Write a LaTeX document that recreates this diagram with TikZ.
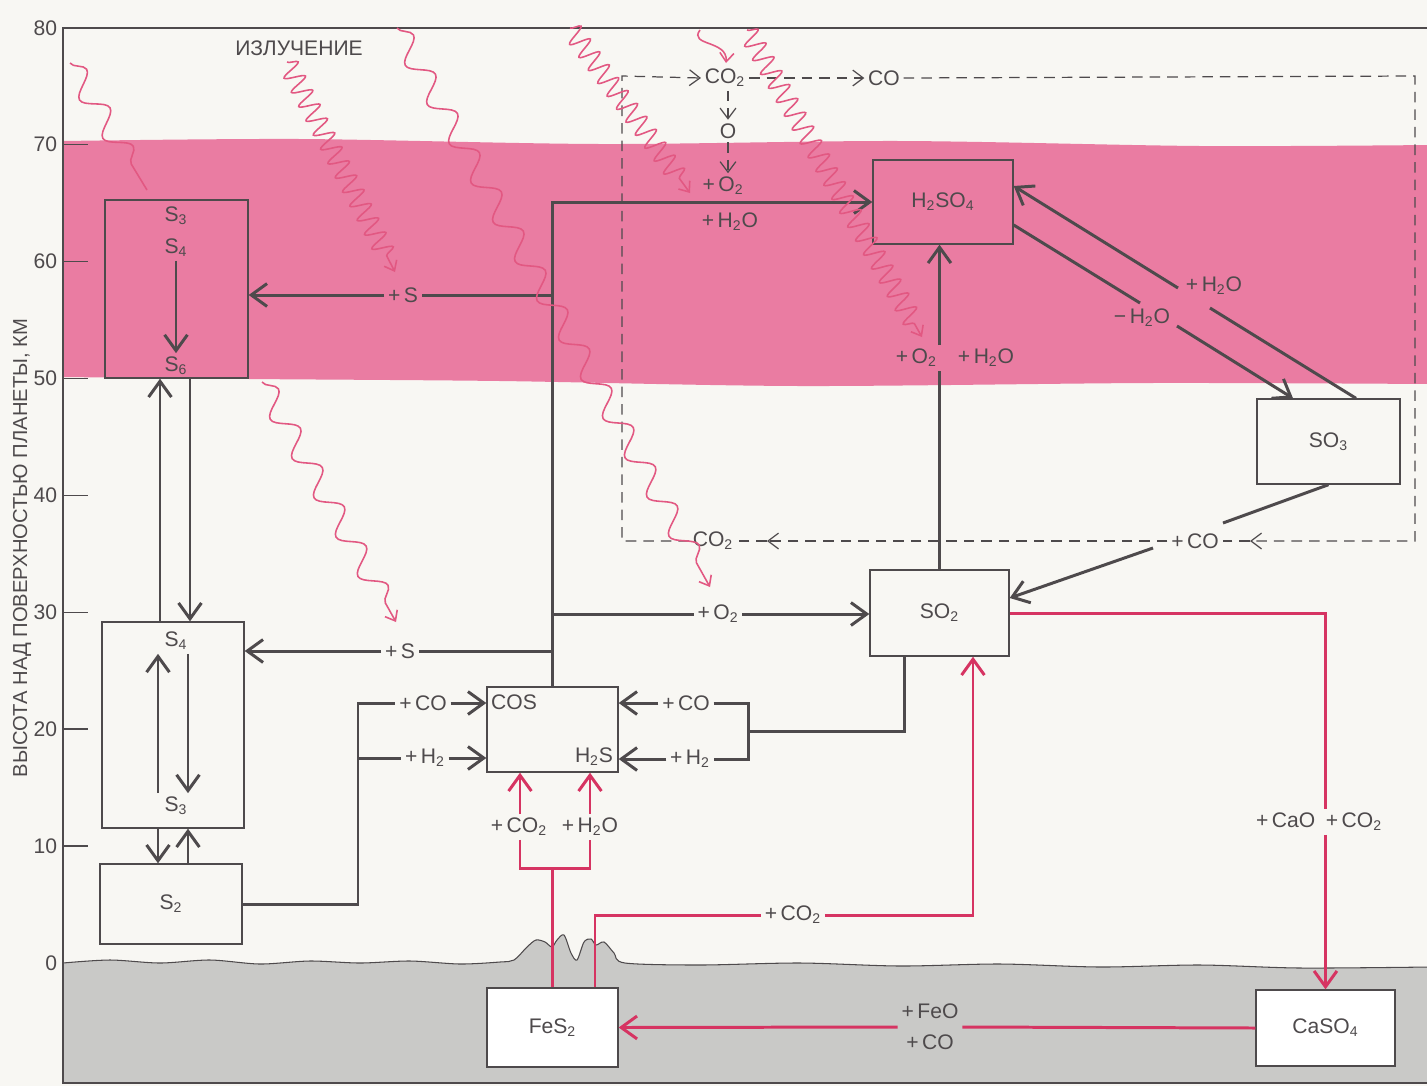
\documentclass[tikz,border=0pt]{standalone}
\usepackage{fontspec}
\setmainfont{Liberation Sans}
\usetikzlibrary{arrows.meta,decorations.pathmorphing}
\definecolor{cloud}{RGB}{234,124,162}
\definecolor{ink}{RGB}{78,74,76}
\definecolor{redline}{RGB}{214,52,98}
\definecolor{rayc}{RGB}{226,88,130}
\definecolor{paper}{RGB}{248,247,243}
\definecolor{ground}{RGB}{201,201,199}
\newcommand{\chsub}[1]{\textsubscript{#1}}

\begin{document}
\begin{tikzpicture}[x=0.02cm,y=-0.02cm,font=\fontsize{12}{14}\selectfont,
  box/.style={draw=ink,line width=0.8pt,fill=paper,inner sep=0pt,text=ink},
  cbox/.style={draw=ink,line width=0.8pt,inner sep=0pt,text=ink},
  lbl/.style={inner sep=2pt,text=ink},
  flow/.style={draw=ink,line width=1.7pt,>={Straight Barb[length=9pt,width=13pt]}},
  pflow/.style={draw=redline,line width=1.7pt,>={Straight Barb[length=9pt,width=13pt]}},
  dflow/.style={draw=ink,line width=0.7pt,dash pattern=on 6pt off 4pt,>={Straight Barb[length=6pt,width=9pt]}},
  raybase/.style={draw=rayc,line width=0.9pt,>={Straight Barb[length=5pt,width=8pt]}},
  ray/.style={raybase,decorate,decoration={snake,segment length=0.32cm,amplitude=0.2cm,post length=3mm}},
  slowray/.style={raybase,decorate,decoration={snake,segment length=0.9cm,amplitude=0.22cm,post length=3mm}}
]
\fill[paper] (0,0) rectangle (1427,1086);
\useasboundingbox (0,0) rectangle (1427,1086);

% cloud layer and ground
\fill[cloud] plot[smooth] coordinates {(63,141) (300,139) (600,144) (900,141) (1200,146) (1430,145)}
  -- plot[smooth] coordinates {(1430,384) (1150,383) (800,386) (500,381) (250,379) (63,377)} -- cycle;
\filldraw[fill=ground,draw=ink,line width=0.6pt] plot[smooth,tension=0.5] coordinates {(63,963) (110,960) (160,963) (210,960) (260,964) (310,961) (360,963) (410,961) (460,964) (500,962) (514,960) (527,947) (536,940) (545,942) (552,947) (557,940) (564,935) (571,953) (577,960) (584,942) (591,939) (596,945) (604,942) (614,953) (625,963) (700,965) (800,963) (900,966) (1000,964) (1100,967) (1200,965) (1300,968) (1430,967)}
  -- (1430,1083) -- (63,1083) -- cycle;

% axis
\draw[ink,line width=0.9pt] (1430,28) -- (63,28) -- (63,1083) -- (1430,1083);
\foreach \v in {10,20,...,70} \draw[ink,line width=0.9pt] (63,{963-11.69*\v}) -- +(25,0);
\foreach \v in {0,10,...,80} \node[lbl,anchor=east] (t\v) at (61,{963-11.69*\v}) {\v};
\node[lbl,rotate=90,font=\fontsize{11.5}{14}\selectfont] (ytitle) at (22,548) {ВЫСОТА НАД ПОВЕРХНОСТЬЮ ПЛАНЕТЫ, КМ};

% boxes
\node[cbox,minimum width=2.86cm,minimum height=3.56cm] (sTop) at (176.5,289) {};
\node[lbl] (t3) at (176,216) {S\chsub3};
\node[lbl] (t4) at (176,248) {S\chsub4};
\node[lbl] (t6) at (176,366) {S\chsub6};
\node[box,minimum width=2.84cm,minimum height=4.12cm] (sMid) at (173,725) {};
\node[lbl] (m4) at (176,641) {S\chsub4};
\node[lbl] (m3) at (176,806) {S\chsub3};
\node[box,minimum width=2.84cm,minimum height=1.6cm] (sTwo) at (171,904) {S\chsub2};
\node[box,minimum width=2.62cm,minimum height=1.7cm] (cos) at (552.5,729.5) {};
\node[lbl] (cosT) at (514,702) {COS};
\node[lbl] (hsT) at (594,757) {H\chsub2S};
\node[box,minimum width=2.78cm,minimum height=1.72cm] (sotwo) at (939.5,613) {SO\chsub2};
\node[cbox,minimum width=2.8cm,minimum height=1.68cm] (hso) at (943,202) {H\chsub2SO\chsub4};
\node[box,minimum width=2.86cm,minimum height=1.7cm] (sothree) at (1328.5,441.5) {SO\chsub3};
\node[box,fill=white,minimum width=2.62cm,minimum height=1.58cm] (fes) at (552.5,1027.5) {FeS\chsub2};
\node[box,fill=white,minimum width=2.78cm,minimum height=1.52cm] (caso) at (1325.5,1028) {CaSO\chsub4};

% labels
\node[lbl] (sA) at (403,295) {+\,S};
\node[lbl] (sB) at (400,651) {+\,S};
\node[lbl] (oA) at (718,614) {+\,O\chsub2};
\node[lbl] (o2L) at (723,186) {+\,O\chsub2};
\node[lbl] (h2oL) at (730,222) {+\,H\chsub2O};
\node[lbl] (coL) at (423,703) {+\,CO};
\node[lbl] (h2L) at (425,758) {+\,H\chsub2};
\node[lbl] (coR) at (686,703) {+\,CO};
\node[lbl] (h2R) at (690,759) {+\,H\chsub2};
\node[lbl] (ohL) at (955,358) {+\,O\chsub2\quad+\,H\chsub2O};
\node[lbl] (hA) at (1214,286) {+\,H\chsub2O};
\node[lbl] (hB) at (1142,318) {−\,H\chsub2O};
\node[lbl] (co2t) at (725,78) {CO\chsub2};
\node[lbl] (coT) at (884,78) {CO};
\node[lbl] (oN) at (728,131) {O};
\node[lbl] (co2b) at (713,541) {CO\chsub2};
\node[lbl] (coB) at (1195,541) {+\,CO};
\node[lbl] (cF) at (519,827) {+\,CO\chsub2};
\node[lbl] (wF) at (590,827) {+\,H\chsub2O};
\node[lbl] (cG) at (793,915) {+\,CO\chsub2};
\node[lbl] (caL) at (1319,822) {+\,CaO\enspace+\,CO\chsub2};
\node[lbl,align=center,font=\fontsize{12}{17.5}\selectfont] (feL) at (930,1027) {+\,FeO\\+\,CO};
\node[lbl,font=\fontsize{12}{14}\selectfont] (rad) at (299,48) {ИЗЛУЧЕНИЕ};

% sulfur chain
\draw[flow,->] (t4) -- (t6);
\draw[flow,->] ([xshift=-0.36cm]m3.north) -- ([xshift=-0.36cm]m4.south);
\draw[flow,->] ([xshift=0.24cm]m4.south) -- ([xshift=0.24cm]m3.north);
\draw[flow,->] ([xshift=-0.26cm]sMid.north) -- ([xshift=-0.26cm]sMid.north |- sTop.south);
\draw[flow,->] ([xshift=0.34cm]sMid.north |- sTop.south) -- ([xshift=0.34cm]sMid.north);
\draw[flow,->] ([xshift=-0.3cm]sMid.south) -- ([xshift=-0.3cm]sMid.south |- sTwo.north);
\draw[flow,->] ([xshift=0.3cm]sMid.south |- sTwo.north) -- ([xshift=0.3cm]sMid.south);

% trunk from COS
\draw[flow,->] (cos.north) |- (hso.west);
\draw[flow] (cos.north |- sA) -- (sA.east);
\draw[flow,->] (sA.west) -- (sTop.east |- sA);
\draw[flow] (cos.north |- sB) -- (sB.east);
\draw[flow,->] (sB.west) -- (sMid.east |- sB);
\draw[flow] (cos.north |- oA) -- (oA.west);
\draw[flow,->] (oA.east) -- (sotwo.west |- oA);

\coordinate (lBus) at (358,758);
\draw[flow] (sTwo.east) -| (lBus |- coL) -- (coL.west);
\draw[flow] (lBus) -- (h2L.west);
\draw[flow,->] (coL.east) -- (cos.west |- coL);
\draw[flow,->] (h2L.east) -- (cos.west |- h2L);

\coordinate (rBus) at (748,731);
\draw[flow] ([xshift=-0.7cm]sotwo.south) |- (rBus);
\draw[flow] (coR.east) -| (rBus) |- (h2R.east);
\draw[flow,->] (coR.west) -- (cos.east |- coR);
\draw[flow,->] (h2R.west) -- (cos.east |- h2R);

\draw[flow] (sotwo.north) -- (sotwo.north |- ohL.south);
\draw[flow,->] (sotwo.north |- ohL.north) -- (sotwo.north |- hso.south);

\coordinate (hAu) at (1178,288);
\coordinate (hAd) at (1210,308);
\coordinate (hBu) at (1140,303);
\coordinate (hBd) at (1177,326);
\draw[flow,->] (hAu) -- ([yshift=0.32cm]hso.east);
\draw[flow] ([xshift=0.55cm]sothree.north) -- (hAd);
\draw[flow] ([yshift=-0.46cm]hso.east) -- (hBu);
\draw[flow,->] (hBd) -- ([xshift=-0.71cm]sothree.north);

\coordinate (cA) at (1223,523);
\coordinate (cB) at (1153,548);
\draw[flow] (sothree.south) -- (cA);
\draw[flow,->] (cB) -- ([yshift=0.3cm]sotwo.east);

% CO2 photolysis loop
\coordinate (dTL) at (622,76);
\coordinate (dTR) at (1415,76);
\coordinate (dBR) at (1415,541);
\coordinate (dBL) at (622,541);
\coordinate (dArR) at (1250,541);
\coordinate (dArL) at (767,541);
\draw[dflow,->] (coT.east) -- (dTR) -- (dBR) -- (dArR);
\draw[dflow] (dArR) -- (coB.east);
\draw[dflow,->] (coB.west) -- (dArL);
\draw[dflow] (dArL) -- (co2b.east);
\draw[dflow,->] (co2b.west) -- (dBL) -- (dTL) -- (co2t.west);
\draw[dflow,->] (co2t.east) -- (coT.west);
\draw[dflow,->] (co2t.south -| oN) -- (oN.north);
\draw[dflow,->] (oN.south) -- (oN.south |- o2L.north);

% surface exchange
\coordinate (pbL) at (520,868);
\coordinate (pbR) at (590,868);
\draw[pflow] (fes.north) -- (fes.north |- pbL);
\draw[pflow] (pbL |- cF.south) -- (pbL) -- (pbR) -- (pbR |- wF.south);
\draw[pflow,->] (pbL |- cF.north) -- (pbL |- cos.south);
\draw[pflow,->] (pbR |- wF.north) -- (pbR |- cos.south);
\draw[pflow] ([xshift=0.85cm]fes.north) |- (cG.west);
\draw[pflow,->] (cG.east) -| ([xshift=0.67cm]sotwo.south);
\draw[pflow] (sotwo.east) -| (caso.north |- caL.north);
\draw[pflow,->] (caso.north |- caL.south) -- (caso.north);
\draw[pflow] (caso.west) -- (feL.east);
\draw[pflow,->] (feL.west) -- (fes.east);

% radiation
\draw[slowray] (70,63) -- (147,190);
\draw[ray,->] (287,62) -- (395,272);
\draw[slowray,->] (397,28) -- (710,587);
\draw[slowray,->] (262,382) -- (396,622);
\draw[ray,->] (570,28) -- (690,193);
\draw[raybase,->] (700,30) .. controls (688,46) and (728,40) .. (726,63);
\draw[ray,->] (747,30) -- (922,337);
\end{tikzpicture}
\end{document}
